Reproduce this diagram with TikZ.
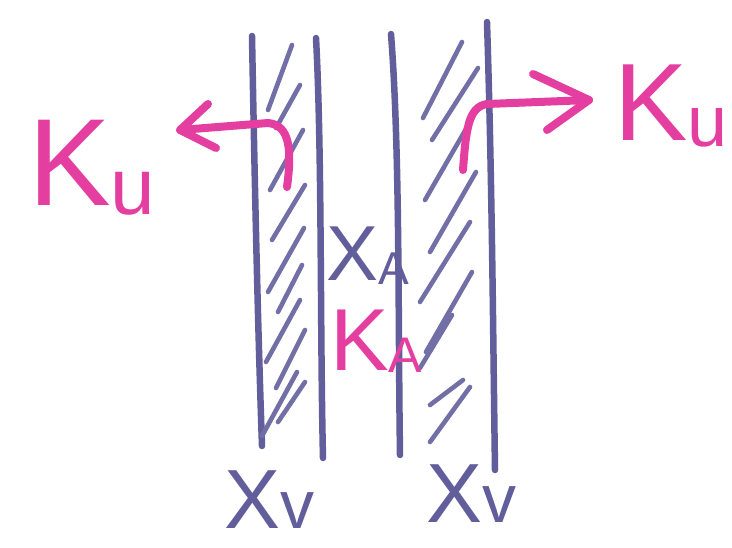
\documentclass[tikz,border=0pt]{standalone}
\usepackage{fontspec}
\setmainfont{Liberation Sans}
\definecolor{ink}{RGB}{98,94,156}
\definecolor{mag}{RGB}{228,62,160}
\newcommand\hwlab[5]{{\fontsize{#3}{#3}\selectfont #1}\raisebox{#5}{\fontsize{#4}{#4}\selectfont #2}}
\begin{document}
\begin{tikzpicture}[x=1pt,y=-1pt,
  chrom/.style={draw=ink, line width=6.5pt, line cap=round},
  hatchline/.style={draw=ink!90, line width=4.6pt, line cap=round},
  pinkline/.style={draw=mag, line width=8pt, line cap=round, line join=round},
  lab/.style={inner sep=0pt, anchor=base west}]
\useasboundingbox (0,0) rectangle (732,547);
\fill[white] (0,0) rectangle (732,547);

% chromatid boundaries
\coordinate (a1) at (252,36);  \coordinate (a2) at (262,446);
\coordinate (b1) at (316,38);  \coordinate (b2) at (323,458);
\coordinate (c1) at (391,34);  \coordinate (c2) at (400,455);
\coordinate (d1) at (487,22);  \coordinate (d2) at (495,470);
\draw[chrom] (a1) .. controls (255,200) and (258,330) .. (a2);
\draw[chrom] (b1) .. controls (322,150) and (320,330) .. (b2);
\draw[chrom] (c1) .. controls (400,150) and (398,320) .. (c2);
\draw[chrom] (d1) .. controls (492,180) and (493,330) .. (d2);

% hatching, left strip
\foreach \xa/\ya/\xb/\yb in {268/110/292/45, 276/128/300/85, 270/190/303/130,
  272/240/305/185, 268/292/304/228, 278/312/302/265, 266/362/300/300,
  276/388/305/330, 262/436/297/372, 278/422/305/382}
  \draw[hatchline] (\xa,\ya) -- (\xb,\yb);

% hatching, right strip
\foreach \xa/\ya/\xb/\yb in {423/118/462/42, 432/140/478/68, 425/200/470/122,
  430/252/476/172, 420/302/470/222, 426/352/472/272, 420/368/452/315,
  430/405/463/380, 430/442/470/387}
  \draw[hatchline] (\xa,\ya) -- (\xb,\yb);

% pink arrows
\coordinate (ls) at (287,187);
\coordinate (lt) at (180,130);
\draw[pinkline] (ls) .. controls (292,150) and (290,125) .. (268,123) -- (lt);
\draw[pinkline] (208,104) -- (lt) -- (216,148);

\coordinate (rs) at (463,170);
\coordinate (rt) at (589,100);
\draw[pinkline] (rs) .. controls (466,130) and (468,107) .. (487,104) -- (rt);
\draw[pinkline] (533,74) -- (rt) -- (547,130);

% labels
\node[lab, text=mag] (kul) at (28,205) {\hwlab{K}{u}{124}{80}{-9pt}};
\node[lab, text=mag] (kur) at (614,140) {\hwlab{K}{u}{110}{72}{-6pt}};
\node[lab, text=ink] (xa) at (326,280) {\hwlab{X}{A}{78}{46}{-4pt}};
\node[lab, text=mag] (ka) at (330,370) {\hwlab{K}{A}{88}{50}{-2pt}};
\node[lab, text=ink] (xvl) at (224,528) {\hwlab{X}{v}{84}{68}{0pt}};
\node[lab, text=ink] (xvr) at (426,522) {\hwlab{X}{v}{84}{68}{0pt}};
\end{tikzpicture}
\end{document}
